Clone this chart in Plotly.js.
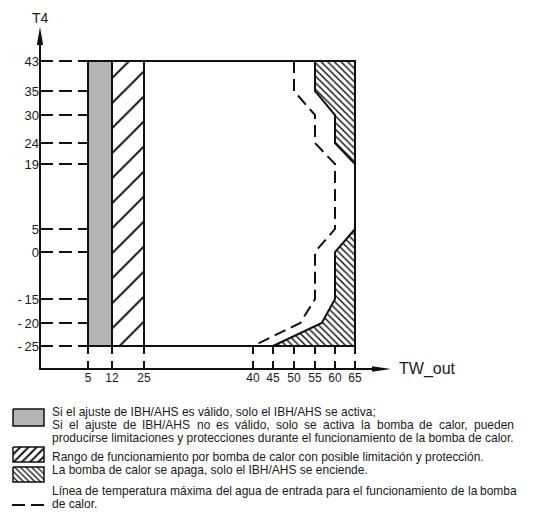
<!DOCTYPE html>
<html><head><meta charset="utf-8">
<script src="https://cdn.plot.ly/plotly-3.0.1.min.js"></script>
<style>html,body{margin:0;padding:0;background:#fff;}#chart{width:542px;height:514px;}</style>
</head><body><div id="chart"></div>
<script>
// ================= DATA =================
const TW_TICKS = [5, 12, 25, 40, 45, 50, 55, 60, 65];
const TW_LABELS = ['5', '12', '25', '40', '45', '50', '55', '60', '65'];
const T4_TICKS = [43, 35, 30, 24, 19, 5, 0, -15, -20, -25];
const T4_LABELS = ['43', '35', '30', '24', '19', '5', '0', '-\u200915', '-\u200920', '-\u200925'];

const T4_MIN = -25, T4_MAX = 43;
const IBH_TW = [5, 12];          // IBH/AHS band
const HP_LIMIT_TW = [12, 25];    // heat pump with possible limitation

const MAXLINE_TW = [50, 50, 55, 55, 60, 60, 55, 55, 51.5, 40];
const MAXLINE_T4 = [43, 35, 30, 24, 19, 5, 0, -15, -20, -25];

const OFF_TOP_TW = [55, 55, 60, 60, 65, 65];
const OFF_TOP_T4 = [43, 35, 30, 24, 19, 43];
const OFF_BOT_TW = [65, 60, 60, 56.7, 45, 65];
const OFF_BOT_T4 = [5, 0, -15, -20, -25, -25];

const X_TITLE = 'TW_out';
const Y_TITLE = 'T4';
const LEG1 = ['Si el ajuste de IBH/AHS es válido, solo el IBH/AHS se activa;',
              'Si el ajuste de IBH/AHS no es válido, solo se activa la bomba de calor, pueden',
              'producirse limitaciones y protecciones durante el funcionamiento de la bomba de calor.'];
const LEG2 = ['Rango de funcionamiento por bomba de calor con posible limitación y protección.'];
const LEG3 = ['La bomba de calor se apaga, solo el IBH/AHS se enciende.'];
const LEG4 = ['Línea de temperatura máxima del agua de entrada para el funcionamiento de la bomba',
              'de calor.'];

// ================= LAYOUT CONSTANTS (positions / styles) =================
const W = 542, H = 514;
const OX = 40, OY = 369;                         // axes origin (page px)
const TW_POS = [48, 72, 104, 213, 233, 254, 275, 295, 315];   // schematic (non-linear) axis positions
const T4_POS = [308, 278, 254, 226, 205, 140, 117, 70, 46, 23];
const FONT = '"Liberation Sans", Arial, sans-serif';

function interp(v, vals, pos) {
  for (let i = 0; i < vals.length - 1; i++) {
    const a = vals[i], b = vals[i + 1];
    if ((v - a) * (v - b) <= 0) return pos[i] + (v - a) / (b - a) * (pos[i + 1] - pos[i]);
  }
  return NaN;
}
const sx = v => interp(v, TW_TICKS, TW_POS);
const sy = v => interp(v, T4_TICKS, T4_POS);

const BLACK = '#111';
const traces = [];

// gray IBH band
traces.push({
  x: [IBH_TW[0], IBH_TW[1], IBH_TW[1], IBH_TW[0], IBH_TW[0]].map(sx),
  y: [T4_MIN, T4_MIN, T4_MAX, T4_MAX, T4_MIN].map(sy),
  mode: 'lines', fill: 'toself', fillcolor: '#b4b4b4',
  line: {color: BLACK, width: 2}
});
// forward-hatched band
traces.push({
  x: [HP_LIMIT_TW[0], HP_LIMIT_TW[1], HP_LIMIT_TW[1], HP_LIMIT_TW[0], HP_LIMIT_TW[0]].map(sx),
  y: [T4_MIN, T4_MIN, T4_MAX, T4_MAX, T4_MIN].map(sy),
  mode: 'lines', fill: 'toself', fillcolor: '#fff',
  fillpattern: {shape: '/', fgcolor: BLACK, bgcolor: '#fff', size: 17.7, solidity: 0.11},
  line: {color: BLACK, width: 2}
});
// heat pump off regions
[[OFF_TOP_TW, OFF_TOP_T4], [OFF_BOT_TW, OFF_BOT_T4]].forEach(([xs, ys]) => {
  traces.push({
    x: xs.concat([xs[0]]).map(sx), y: ys.concat([ys[0]]).map(sy),
    mode: 'lines', fill: 'toself', fillcolor: '#fff',
    fillpattern: {shape: '\\', fgcolor: BLACK, bgcolor: '#fff', size: 4.7, solidity: 0.32},
    line: {color: BLACK, width: 2}
  });
});
// outer box
traces.push({
  x: [IBH_TW[0], TW_TICKS[TW_TICKS.length - 1], TW_TICKS[TW_TICKS.length - 1], IBH_TW[0]].map(sx),
  y: [T4_MAX, T4_MAX, T4_MIN, T4_MIN].map(sy),
  mode: 'lines', line: {color: BLACK, width: 2}
});
// max inlet water temperature line
traces.push({
  x: MAXLINE_TW.map(sx), y: MAXLINE_T4.map(sy),
  mode: 'lines', line: {color: BLACK, width: 2, dash: '12px,6px'}
});
// y tick guide dashes
T4_TICKS.forEach(t => {
  traces.push({x: [0, sx(IBH_TW[0])], y: [sy(t), sy(t)], mode: 'lines',
    line: {color: BLACK, width: 2, dash: '13px,6px'}});
});
// x tick guide dashes
TW_TICKS.forEach(t => {
  traces.push({x: [sx(t), sx(t)], y: [0, sy(T4_MIN)], mode: 'lines',
    line: {color: BLACK, width: 2, dash: '8px,7px'}});
});
traces.forEach(t => { t.xaxis = 'x'; t.yaxis = 'y'; t.hoverinfo = 'skip'; t.showlegend = false; });

// ================= LEGEND (page px on x2/y2) =================
const LX = 52, LRIGHT = 514;
const ICON_X = [13, 44];
const ctx = document.createElement('canvas').getContext('2d');
function mw(s, fs) { ctx.font = fs + 'px ' + FONT; return ctx.measureText(s).width; }
let FS = 11 * (LRIGHT - LX) / mw(LEG1[2], 11);
FS = Math.max(10, Math.min(12, FS));

const legTraces = [];
function boxXY(y0, y1) {
  return {x: [ICON_X[0], ICON_X[1], ICON_X[1], ICON_X[0], ICON_X[0]], y: [y0, y0, y1, y1, y0]};
}
legTraces.push(Object.assign(boxXY(409, 426), {mode: 'lines', fill: 'toself', fillcolor: '#b4b4b4', line: {color: BLACK, width: 1.5}}));
legTraces.push(Object.assign(boxXY(447, 462), {mode: 'lines', fill: 'toself', fillcolor: '#fff',
  fillpattern: {shape: '/', fgcolor: BLACK, bgcolor: '#fff', size: 5.8, solidity: 0.35}, line: {color: BLACK, width: 1.5}}));
legTraces.push(Object.assign(boxXY(467, 482), {mode: 'lines', fill: 'toself', fillcolor: '#fff',
  fillpattern: {shape: '\\', fgcolor: BLACK, bgcolor: '#fff', size: 4, solidity: 0.32}, line: {color: BLACK, width: 1.5}}));
legTraces.push({x: [12, 44], y: [505, 505], mode: 'lines', line: {color: BLACK, width: 2, dash: '13px,6px'}});
legTraces.forEach(t => { t.xaxis = 'x2'; t.yaxis = 'y2'; t.hoverinfo = 'skip'; t.showlegend = false; });

const annotations = [];
function textAnn(txt, x, y, opts) {
  return Object.assign({xref: 'x2', yref: 'y2', x: x, y: y, text: txt, showarrow: false,
    xanchor: 'left', yanchor: 'middle', align: 'left', borderpad: 0, borderwidth: 0,
    font: {family: FONT, size: FS, color: '#1a1a1a'}}, opts || {});
}
function justified(line, y, right) {
  const words = line.split(' ');
  const widths = words.map(w => mw(w, FS));
  const total = widths.reduce((a, b) => a + b, 0);
  const gap = ((right - LX) - total) / (words.length - 1);
  let x = LX;
  words.forEach((w, i) => { annotations.push(textAnn(w, x, y)); x += widths[i] + gap; });
}
annotations.push(textAnn(LEG1[0], LX, 412));
justified(LEG1[1], 425, LRIGHT);
annotations.push(textAnn(LEG1[2], LX, 438));
annotations.push(textAnn(LEG2[0], LX, 457));
annotations.push(textAnn(LEG3[0], LX, 470));
justified(LEG4[0], 491, 517);
annotations.push(textAnn(LEG4[1], LX, 504));

// axis titles
annotations.push({xref: 'x2', yref: 'y2', x: OX, y: 18, text: Y_TITLE, showarrow: false,
  xanchor: 'center', yanchor: 'middle', font: {family: FONT, size: 14, color: '#1a1a1a'}});
annotations.push({xref: 'x2', yref: 'y2', x: 398, y: 369, text: X_TITLE, showarrow: false,
  xanchor: 'left', yanchor: 'middle', borderpad: 0, font: {family: FONT, size: 16, color: '#1a1a1a'}});

// axis arrows
const shapes = [
  {type: 'line', xref: 'x2', yref: 'y2', x0: OX, y0: OY + 1, x1: OX, y1: 42, line: {color: BLACK, width: 2}},
  {type: 'path', xref: 'x2', yref: 'y2', path: `M${OX},27 L${OX + 3.2},45 L${OX - 3.2},45 Z`, fillcolor: BLACK, line: {width: 0}},
  {type: 'line', xref: 'x2', yref: 'y2', x0: OX - 1, y0: OY, x1: 376, y1: OY, line: {color: BLACK, width: 2}},
  {type: 'path', xref: 'x2', yref: 'y2', path: `M391,${OY} L372,${OY - 2.8} L372,${OY + 2.8} Z`, fillcolor: BLACK, line: {width: 0}}
];

const layout = {
  width: W, height: H, margin: {l: 0, r: 0, t: 0, b: 0},
  paper_bgcolor: '#fff', plot_bgcolor: 'rgba(0,0,0,0)',
  showlegend: false,
  xaxis: {domain: [OX / W, 1], range: [0, W - OX], tickvals: TW_POS, ticktext: TW_LABELS,
    showgrid: false, zeroline: false, showline: false, ticks: '', automargin: false, fixedrange: true,
    tickfont: {family: FONT, size: 12, color: '#1a1a1a'}, anchor: 'y'},
  yaxis: {domain: [(H - OY) / H, 1], range: [0, OY], tickvals: T4_POS, ticktext: T4_LABELS,
    showgrid: false, zeroline: false, showline: false, ticks: '', automargin: false, fixedrange: true,
    tickfont: {family: FONT, size: 13, color: '#1a1a1a'}, anchor: 'x'},
  xaxis2: {domain: [0, 1], range: [0, W], visible: false, anchor: 'y2', fixedrange: true},
  yaxis2: {domain: [0, 1], range: [H, 0], visible: false, anchor: 'x2', fixedrange: true},
  annotations: annotations, shapes: shapes
};

Plotly.newPlot('chart', traces.concat(legTraces), layout, {staticPlot: true, displayModeBar: false});
</script></body></html>
